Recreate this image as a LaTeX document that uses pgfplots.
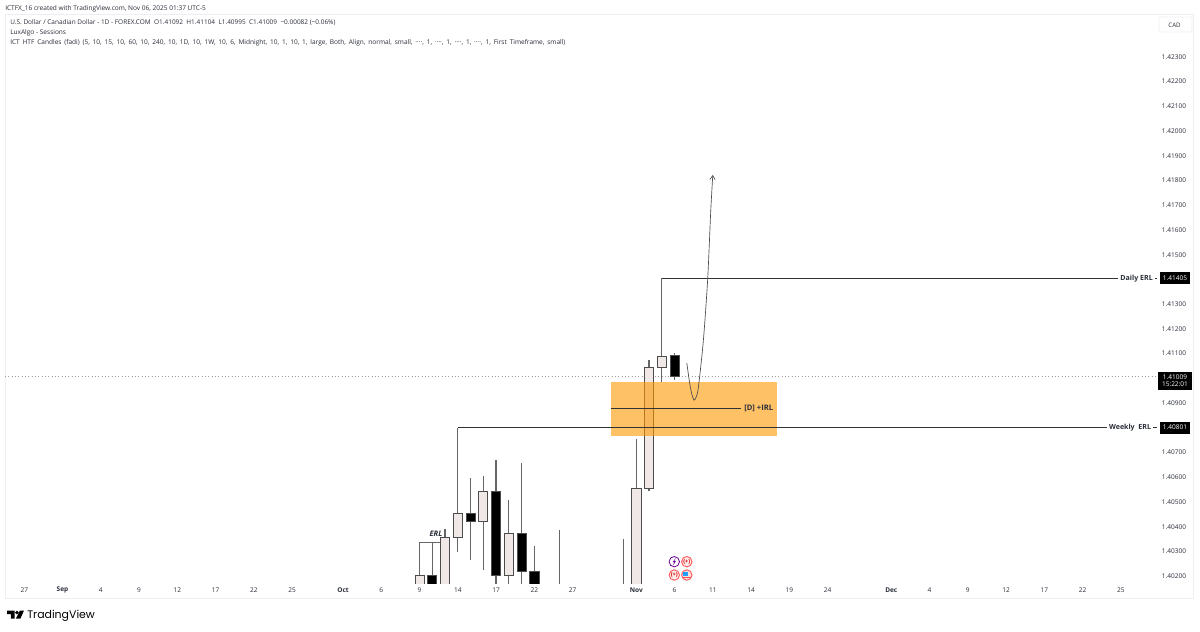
\documentclass[border=0pt]{standalone}
\usepackage{pgfplots}
\pgfplotsset{compat=1.18}
\usepackage{fontspec}
\setmainfont{Open Sans}
\usetikzlibrary{arrows.meta}
\definecolor{body}{HTML}{F0E7E7}
\definecolor{wick}{HTML}{666666}
\definecolor{pale}{HTML}{EDEEF2}
\definecolor{txt}{HTML}{2A2E39}
\definecolor{zone}{HTML}{FF9800}
\newfontfamily\tvfont{Poppins}
\newfontfamily\widefont[WordSpace=1.68]{Open Sans}
\newcommand{\fs}[1]{\fontsize{#1}{#1}\selectfont}
% index, body low, body high, wick low, wick high, fill
\newcommand{\candle}[6]{%
  \addplot[wick,line width=0.9pt,forget plot] coordinates {(#1,#4) (#1,#5)};
  \addplot[draw=black!70,fill=#6,line width=0.55pt,forget plot] coordinates {(#1-0.36,#2) (#1+0.36,#2) (#1+0.36,#3) (#1-0.36,#3)} --cycle;
}
\newcommand{\wickonly}[3]{%
  \addplot[wick,line width=0.9pt,forget plot] coordinates {(#1,#2) (#1,#3)};
}
\begin{document}
\begin{tikzpicture}[x=0.75pt,y=-0.75pt]
\path[use as bounding box] (0,0) rectangle (1200,632);
\fill[white] (0,0) rectangle (1200,632);
\draw[pale,line width=0.6pt] (5,14.5) rectangle (1193,598);
\draw[pale,fill=white,line width=0.6pt,rounded corners=1pt] (1159,17) rectangle (1192,32);
\node[text=txt,font=\fs{4.6}] at (1174.5,25) {CAD};
\node[anchor=west,inner sep=0,text=txt,font=\fs{4.9}] at (5,9) {ICTFX\_16 created with TradingView.com, Nov 06, 2025 01:37 UTC-5};
\node[anchor=west,inner sep=0,text=txt,font=\fs{4.85}] at (10,23) {U.S. Dollar / Canadian Dollar - 1D - FOREX.COM\ \ O1.41092\ \ H1.41104\ \ L1.40995\ \ C1.41009\ \ −0.00082 (−0.06\%)};
\node[anchor=west,inner sep=0,text=txt,font=\fs{4.9}] at (10,33) {LuxAlgo - Sessions};
\node[anchor=west,inner sep=0,text=txt,font=\widefont\fs{4.9}] at (10,42.5) {ICT HTF Candles (fadi) (5, 10, 15, 10, 60, 10, 240, 10, 1D, 10, 1W, 10, 6, Midnight, 10, 1, 10, 1, large, Both, Align, normal, small, ····, 1, ····, 1, ····, 1, ····, 1, First Timeframe, small)};
\coordinate (O) at (5,583.7);
\begin{axis}[
  at={(O)},anchor=south west,
  scale only axis,width=864pt,height=426pt,
  xmin=-32.51,xmax=57.84,ymin=1.40170,ymax=1.42466,
  clip mode=individual,
  axis line style={draw=none},
  major tick length=0pt,
  xtick={-31,-28,-25,-22,-19,-16,-13,-10,-6,-3,0,3,6,9,12,17,20,23,26,29,32,37,40,43,46,49,52,55},
  xticklabels={27,\textbf{Sep},4,9,12,17,22,25,\textbf{Oct},6,9,14,17,22,27,\textbf{Nov},6,11,14,19,24,\textbf{Dec},4,9,12,17,22,25},
  x tick label style={font=\fs{4.9},text=txt,anchor=center,yshift=-4.7pt,inner sep=0pt},
  ytick={1.402,1.403,1.404,1.405,1.406,1.407,1.409,1.411,1.412,1.413,1.415,1.416,1.417,1.418,1.419,1.420,1.421,1.422,1.423},
  yticklabel pos=right,
  y tick label style={font=\fs{4.9},text=txt,anchor=center,xshift=12.75pt,inner sep=0pt,
    /pgf/number format/.cd,fixed,fixed zerofill,precision=5,assume math mode=true},
  scaled y ticks=false,
]
% current price line
\addplot[black!38,line width=0.5pt,dotted,forget plot] coordinates {(-32.51,1.41009) (57.84,1.41009)};
% ERL bracket
\addplot[wick,line width=0.9pt,forget plot] coordinates {(0,1.4015) (0,1.40338)};
\addplot[wick,line width=0.9pt,forget plot] coordinates {(1,1.4015) (1,1.40338)};
\addplot[wick,line width=0.7pt,forget plot] coordinates {(0,1.40338) (2.05,1.40338)};
% long structure legs
\addplot[wick,line width=0.9pt,forget plot] coordinates {(3,1.40455) (3,1.40801)};
\addplot[wick,line width=0.9pt,forget plot] coordinates {(19,1.41043) (19,1.41405)};
% candles
\candle{0}{1.4015}{1.40203}{1.4015}{1.40203}{body}
\candle{1}{1.4015}{1.40203}{1.4015}{1.40203}{black}
\candle{2}{1.4015}{1.40357}{1.4015}{1.40391}{body}
\candle{3}{1.40356}{1.40455}{1.40299}{1.40455}{body}
\candle{4}{1.40420}{1.40455}{1.40265}{1.40597}{black}
\candle{5}{1.40420}{1.40544}{1.40225}{1.40606}{body}
\candle{6}{1.40205}{1.40544}{1.4015}{1.40671}{black}
\candle{7}{1.40205}{1.40375}{1.4015}{1.40508}{body}
\candle{8}{1.40221}{1.40375}{1.4015}{1.40656}{black}
\candle{9}{1.4015}{1.40221}{1.4015}{1.40322}{black}
\wickonly{11}{1.4015}{1.40388}
\wickonly{16}{1.4015}{1.40352}
\candle{17}{1.4015}{1.40554}{1.4015}{1.40756}{body}
\candle{18}{1.40554}{1.41043}{1.40543}{1.41076}{body}
\candle{19}{1.41043}{1.41090}{1.40985}{1.41090}{body}
\candle{20}{1.41009}{1.41092}{1.40995}{1.41104}{black}
% zone
\addplot[draw=none,fill=zone,fill opacity=0.6,forget plot] coordinates {(15.02,1.40769) (28.04,1.40769) (28.04,1.40986) (15.02,1.40986)} --cycle;
% lines
\addplot[black!80,line width=0.6pt,forget plot] coordinates {(3,1.40801) (57.84,1.40801)};
\addplot[black!80,line width=0.6pt,forget plot] coordinates {(19,1.41405) (57.84,1.41405)};
\addplot[black!80,line width=0.6pt,forget plot] coordinates {(14.98,1.40878) (25.2,1.40878)};
% projected path
\addplot[black!70,line width=0.5pt,smooth,tension=0.45,-{Straight Barb[length=3pt,width=4pt]},forget plot] coordinates {
 (20.96,1.41063) (21.16,1.40990) (21.33,1.40942) (21.53,1.40912) (21.70,1.40925) (21.87,1.40963) (22.26,1.41152) (22.6,1.41401) (22.84,1.41677) (23.0,1.41822)};
% labels
\node[font=\fs{5.7}\bfseries,text=txt,inner sep=0pt] at (axis cs:26.6,1.40878) {[D] +IRL};
\node[font=\fs{5.7}\bfseries\itshape,text=txt,inner sep=0pt] at (axis cs:1.29,1.40370) {ERL};
\node[font=\fs{5.3}\bfseries,text=txt,fill=white,inner xsep=1.5pt,inner ysep=1pt] at (axis cs:56.24,1.41405) {Daily ERL};
\node[font=\fs{5.3}\bfseries,text=txt,fill=white,inner xsep=1.5pt,inner ysep=1pt] at (axis cs:55.73,1.40801) {Weekly\ \ ERL};
\node[fill=black,text=white,font=\fs{4.9},minimum width=22pt,minimum height=9pt,inner sep=0pt] at (axis cs:59.25,1.41405) {1.41405};
\node[fill=black,text=white,font=\fs{4.9},minimum width=22pt,minimum height=9pt,inner sep=0pt] at (axis cs:59.25,1.40801) {1.40801};
\node[fill=black,text=white,font=\fs{4.9},minimum width=25pt,minimum height=13.5pt,inner sep=0pt,align=center] at (axis cs:59.25,1.40990) {1.41009\\[0.6pt]15:22:01};
\end{axis}
% event icons
\begin{scope}[line width=0.6pt]
\draw[violet!85!blue,fill=white] (674.3,561.7) circle[radius=5.2];
\fill[violet!85!blue] (675.8,557.8) -- (672.6,562.2) -- (674.2,562.2) -- (672.8,565.6) -- (676,561) -- (674.4,561) -- cycle;
\foreach \p in {(686.8,561.7),(674.3,575)}{
  \draw[red!62!white,fill=red!7,line width=0.75pt] \p circle[radius=5.2];
  \node[text=red!80!black,font=\fs{4.2}\bfseries,inner sep=0] at \p {(+)};
}
\draw[red!62!white,fill=red!12,line width=0.75pt] (686.8,575) circle[radius=5.2];
\fill[blue!45!cyan!85!white] (683,571.5) rectangle (688,575.5);
\draw[red!70!white,line width=0.8pt] (682.5,577.3) -- (691,577.3);
\end{scope}
% logo
\fill[black] (7,610.7) -- (14.6,610.7) -- (14.6,618.6) -- (10.8,618.6) -- (10.8,614) -- (7,614) -- cycle;
\fill[black] (16.9,612.5) circle[radius=1.9];
\fill[black] (19.8,610.7) -- (23.9,610.7) -- (20.4,618.6) -- (15.9,618.6) -- cycle;
\node[anchor=west,inner sep=0,text=black,font=\fs{8.2}\tvfont] at (27,615.5) {TradingView};
\end{tikzpicture}
\end{document}
